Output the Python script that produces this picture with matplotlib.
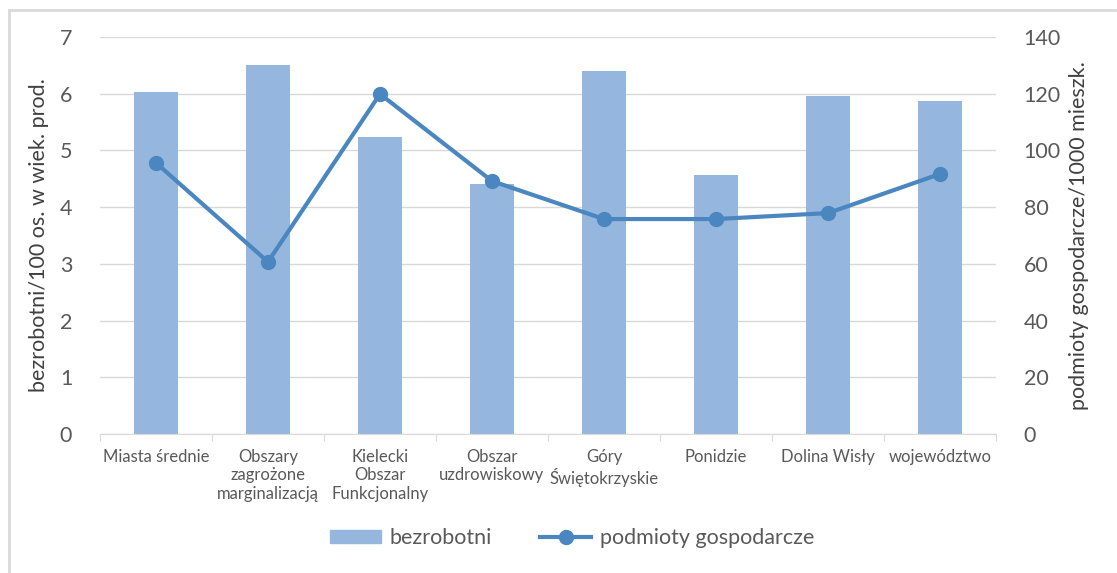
import matplotlib
matplotlib.use("Agg")
import matplotlib.pyplot as plt
from matplotlib.lines import Line2D
import numpy as np

categories = ["Miasta średnie", "Obszary\nzagrożone\nmarginalizacją", "Kielecki\nObszar\nFunkcjonalny",
              "Obszar\nuzdrowiskowy", "Góry\nŚwiętokrzyskie", "Ponidzie", "Dolina Wisły", "województwo"]
bezrobotni = [6.03, 6.51, 5.24, 4.41, 6.40, 4.57, 5.96, 5.87]
podmioty = [95.6, 60.7, 119.9, 89.2, 75.8, 75.8, 77.9, 91.7]
left_ticks = [0, 1, 2, 3, 4, 5, 6, 7]
right_ticks = [0, 20, 40, 60, 80, 100, 120, 140]

plt.rcParams['font.family'] = ['Lato', 'DejaVu Sans']
txt = '#595959'
bar_c = '#95B7DE'
line_c = '#4A86C0'

fig = plt.figure(figsize=(11.17, 5.73), dpi=100)
ax = fig.add_axes([100/1117, 1-434/573, 896/1117, 397/573])
x = np.arange(len(categories))
ax.bar(x, bezrobotni, width=0.39, color=bar_c, zorder=2)
ax.set_xlim(-0.5, len(categories)-0.5)
ax.set_ylim(0, 7)
ax.set_yticks(left_ticks)
ax.grid(axis='y', color='#D9D9D9', linewidth=1, zorder=0)
for s in ['top', 'right', 'left']:
    ax.spines[s].set_visible(False)
ax.spines['bottom'].set_color('#D9D9D9')
ax.set_xticks(np.arange(-0.5, len(categories), 1), minor=False)
ax.set_xticklabels([])
ax.tick_params(axis='x', length=5, color='#D9D9D9', direction='out')
for i, c in enumerate(categories):
    ax.text(i, -0.26, c, ha='center', va='top', fontsize=12, color=txt, linespacing=1.2)
ax.tick_params(axis='y', length=0, labelsize=15.5, colors=txt, pad=20)
ax.set_ylabel("bezrobotni/100 os. w wiek. prod.", fontsize=15.5, color='#404040', labelpad=8)

ax2 = ax.twinx()
ax2.plot(x, podmioty, color=line_c, linewidth=3, marker='o', markersize=10, zorder=3)
ax2.set_ylim(0, 140)
ax2.set_yticks(right_ticks)
for s in ['top', 'right', 'left', 'bottom']:
    ax2.spines[s].set_visible(False)
ax2.tick_params(axis='y', length=0, labelsize=15.5, colors=txt, pad=20)
ax2.set_ylabel("podmioty gospodarcze/1000 mieszk.", fontsize=15.5, color='#404040', labelpad=6)

handles = [plt.Rectangle((0, 0), 1, 1, color=bar_c),
           Line2D([0], [0], color=line_c, linewidth=3, marker='o', markersize=10)]
fig.legend(handles, ["bezrobotni", "podmioty gospodarcze"], loc='center', bbox_to_anchor=(572/1117, 1-538/573),
           ncol=2, frameon=False, fontsize=15.5, labelcolor=txt, handlelength=2.4, handleheight=0.6,
           columnspacing=2.2, handletextpad=0.4)

fig.add_artist(Line2D([9/1117, 9/1117], [0, 1-10/573], color='#D9D9D9', linewidth=2, transform=fig.transFigure))
fig.add_artist(Line2D([9/1117, 1115/1117], [1-10/573, 1-10/573], color='#D9D9D9', linewidth=2, transform=fig.transFigure))

fig.savefig("out.png", dpi=100)
